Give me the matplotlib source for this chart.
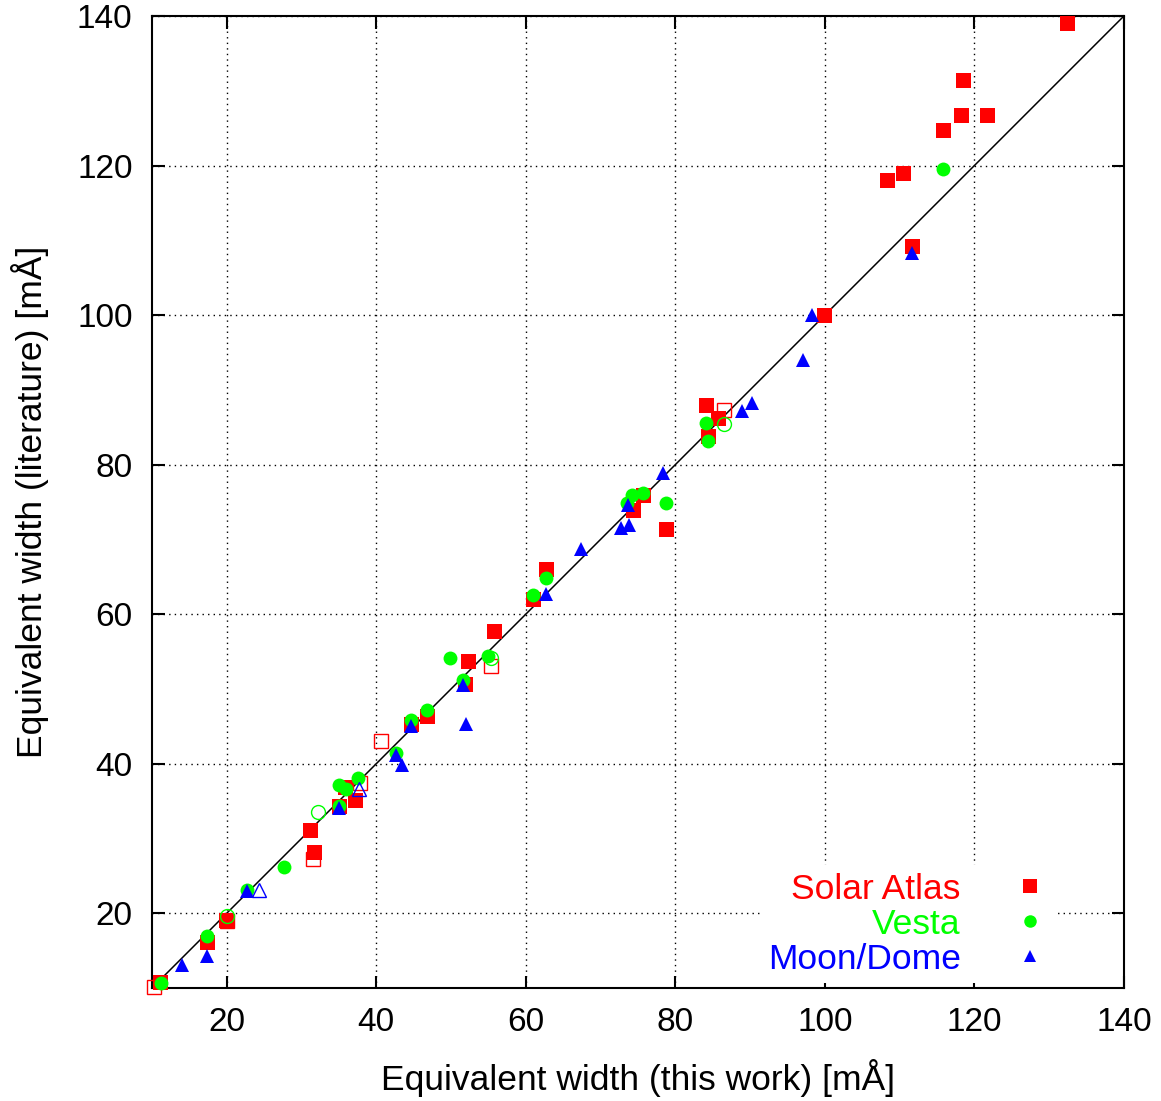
import matplotlib
matplotlib.use('Agg')
import matplotlib.pyplot as plt
import numpy as np

plt.rcParams['font.family'] = ['Liberation Sans', 'DejaVu Sans']

# Solar Atlas (filled / open)
atlas_x = [11.1, 17.3, 19.9, 31.1, 31.7, 35.0, 35.8, 37.2, 44.7, 46.8, 51.9, 52.3, 55.8, 61.0, 62.7,
           74.3, 75.7, 78.7, 84.1, 84.3, 85.7, 99.9, 108.3, 110.5, 111.7, 115.8, 118.2, 118.5, 121.7, 132.4]
atlas_y = [10.8, 16.2, 19.1, 31.1, 28.2, 34.3, 36.9, 35.2, 45.3, 46.4, 50.7, 53.7, 57.8, 62.0, 66.1,
           73.9, 76.0, 71.4, 88.0, 83.8, 86.2, 100.0, 118.1, 119.0, 109.2, 124.8, 126.8, 131.5, 126.7, 139.1]
atlas_open_x = [10.3, 20.0, 31.6, 37.8, 40.6, 55.4, 86.5]
atlas_open_y = [10.1, 18.9, 27.3, 37.4, 43.0, 53.1, 87.3]

# Vesta
vesta_x = [11.2, 17.3, 22.7, 27.7, 35.0, 35.0, 36.0, 37.6, 42.6, 44.7, 46.8, 49.9, 51.6, 55.0, 61.0,
           62.7, 73.5, 74.2, 75.7, 78.7, 84.1, 84.3, 115.8]
vesta_y = [10.7, 16.9, 23.1, 26.2, 34.4, 37.2, 36.6, 38.1, 41.4, 45.9, 47.2, 54.2, 51.2, 54.4, 62.6,
           64.9, 74.8, 75.9, 76.2, 74.9, 85.6, 83.2, 119.5]
vesta_open_x = [20.1, 32.2, 55.4, 86.5]
vesta_open_y = [19.6, 33.6, 54.1, 85.4]

# Moon/Dome
moon_x = [14.0, 17.3, 22.7, 35.0, 42.6, 43.4, 44.7, 51.6, 52.0, 62.7, 67.4, 72.7, 73.8, 73.7, 78.4,
          88.9, 90.2, 97.1, 98.3, 111.7]
moon_y = [13.1, 14.3, 23.0, 34.1, 41.2, 39.8, 45.0, 50.5, 45.3, 62.7, 68.7, 71.5, 71.9, 74.6, 78.9,
          87.2, 88.3, 94.0, 100.0, 108.3]
moon_open_x = [24.3, 37.7]
moon_open_y = [23.1, 36.6]

red = '#ff0000'
green = '#00ff00'
blue = '#0000ff'

fig = plt.figure(figsize=(11.61, 11.01), dpi=100)
ax = fig.add_axes([0.1309, 0.1026, 0.8372, 0.8829])

ax.plot([10, 140], [10, 140], color='black', lw=1.1, zorder=2)

ax.plot(atlas_x, atlas_y, 's', color=red, ms=10.8, mew=0, label='Solar Atlas', zorder=3, clip_on=False)
ax.plot(atlas_open_x, atlas_open_y, 's', mfc='none', mec=red, ms=10.5, mew=1, zorder=3, clip_on=False)
ax.plot(vesta_x, vesta_y, 'o', color=green, ms=10, mew=0, label='Vesta', zorder=4, clip_on=False)
ax.plot(vesta_open_x, vesta_open_y, 'o', mfc='none', mec=green, ms=10, mew=1, zorder=4)
ax.plot(moon_x, moon_y, '^', color=blue, ms=10, mew=0, label='Moon/Dome', zorder=5)
ax.plot(moon_open_x, moon_open_y, '^', mfc='none', mec=blue, ms=10, mew=1, zorder=5)

ax.set_xlim(10, 140)
ax.set_ylim(10, 140)
ax.set_xticks(np.arange(20, 141, 20))
ax.set_yticks(np.arange(20, 141, 20))
ax.grid(True, color='black', linestyle=(0, (1, 3)), lw=1)
ax.tick_params(direction='in', length=9, width=1.5, top=True, right=True, labelsize=24)
ax.tick_params(axis='x', pad=14)
ax.tick_params(axis='y', pad=14)
for s in ax.spines.values():
    s.set_linewidth(1.5)

ax.set_xlabel('Equivalent width (this work) [mÅ]', fontsize=25.5, labelpad=15)
ax.set_ylabel('Equivalent width (literature) [mÅ]', fontsize=25.5, labelpad=20)

leg = ax.legend(loc='lower right', bbox_to_anchor=(0.936, -0.002), markerfirst=False,
                fontsize=25.5, labelcolor=[red, green, blue], markerscale=0.9,
                frameon=True, fancybox=False, framealpha=1, edgecolor='none',
                handlelength=1.0, handletextpad=1.45, labelspacing=0.06,
                borderpad=0.2, borderaxespad=0.2)
leg.set_zorder(6)

fig.savefig('out.png', dpi=100)
